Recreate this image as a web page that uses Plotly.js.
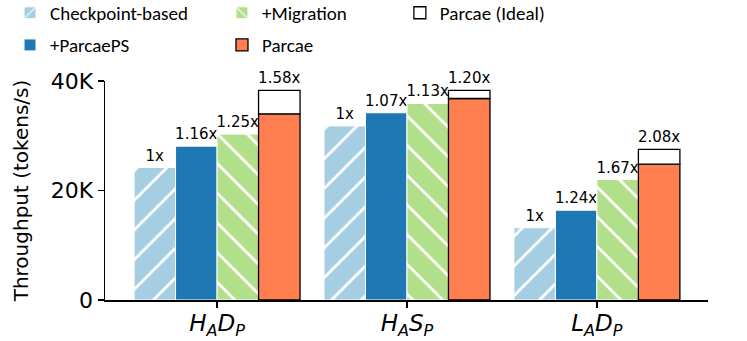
<!DOCTYPE html>
<html>
<head>
<meta charset="utf-8">
<script src="https://cdn.plot.ly/plotly-3.0.1.min.js"></script>
<style>
  html, body { margin: 0; padding: 0; background: #fff; }
  #chart { width: 747px; height: 341px; }
</style>
</head>
<body>
<div id="chart"></div>
<script>
// -- Data ---------------------------------------------------------------------
const workloads = ['<i>H<sub>A</sub>D<sub>P</sub></i>', '<i>H<sub>A</sub>S<sub>P</sub></i>', '<i>L<sub>A</sub>D<sub>P</sub></i>'];

const checkpoint = [24200, 31800, 13200];
const parcaePS   = [28100, 34200, 16400];
const migration  = [30300, 35900, 22000];
const parcae     = [34000, 36800, 24800];
const ideal      = [38300, 38300, 27500];

const lblCheckpoint = ['1x', '1x', '1x'];
const lblParcaePS   = ['1.16x', '1.07x', '1.24x'];
const lblMigration  = ['1.25x', '1.13x', '1.67x'];
const lblIdeal      = ['1.58x', '1.20x', '2.08x'];

const yTicks  = [0, 20000, 40000];
const yLabels = ['0', '20K', '40K'];

// -- Styles -------------------------------------------------------------------
const FONT = 'DejaVu Sans, sans-serif';
const LEG_FONT = { family: 'Carlito, Lato, sans-serif', size: 19, color: '#000' };
const LBL_FONT = { family: FONT, size: 15, color: '#000' };

function barTrace(name, y, labels, opts) {
  return Object.assign({
    type: 'bar',
    x: workloads,
    y: y,
    name: name,
    text: labels,
    textposition: labels ? 'outside' : 'none',
    textfont: LBL_FONT,
    constraintext: 'none',
    cliponaxis: false,
    hoverinfo: 'skip',
  }, opts);
}

const traces = [
  barTrace('Checkpoint-based', checkpoint, lblCheckpoint, {
    offsetgroup: 'a', legend: 'legend',
    marker: {
      color: '#a6cee3',
      line: { color: '#ffffff', width: 1 },
      pattern: { shape: '/', bgcolor: '#a6cee3', fgcolor: '#ffffff', fgopacity: 1, size: 21, solidity: 0.13 },
    },
  }),
  barTrace('+ParcaePS', parcaePS, lblParcaePS, {
    offsetgroup: 'b', legend: 'legend2',
    marker: { color: '#1f78b4', line: { color: '#ffffff', width: 1 } },
  }),
  barTrace('+Migration', migration, lblMigration, {
    offsetgroup: 'c', legend: 'legend3',
    marker: {
      color: '#b2df8a',
      line: { color: '#ffffff', width: 1 },
      pattern: { shape: '\\', bgcolor: '#b2df8a', fgcolor: '#ffffff', fgopacity: 1, size: 21, solidity: 0.13 },
    },
  }),
  barTrace('Parcae', parcae, null, {
    offsetgroup: 'd', legend: 'legend4',
    marker: { color: '#ff7f50', line: { color: '#000000', width: 1.3 } },
  }),
  barTrace('Parcae (Ideal)', ideal.map((v, i) => v - parcae[i]), lblIdeal, {
    offsetgroup: 'd', legend: 'legend5',
    base: parcae,
    marker: { color: '#ffffff', line: { color: '#000000', width: 1.3 } },
  }),
];

// legend placement helper: one legend per entry, laid out in 3 columns x 2 rows
function leg(x, y) {
  return {
    x: x, y: y, xanchor: 'left', yanchor: 'middle',
    bgcolor: 'rgba(0,0,0,0)', borderwidth: 0,
    font: LEG_FONT,
  };
}

const layout = {
  width: 747,
  height: 341,
  paper_bgcolor: '#ffffff',
  plot_bgcolor: '#ffffff',
  font: { family: FONT, color: '#000' },
  margin: { l: 105, r: 39, t: 81, b: 41, autoexpand: false },
  barmode: 'group',
  bargap: 0.126,
  bargroupgap: 0,
  showlegend: true,
  legend:  leg(-0.1575, 1.311),
  legend2: leg(-0.1575, 1.164),
  legend3: leg(0.194, 1.311),
  legend4: leg(0.194, 1.164),
  legend5: leg(0.489, 1.311),
  xaxis: {
    range: [-0.59, 2.585],
    showline: true, linecolor: '#000', linewidth: 1.5,
    ticks: 'outside', ticklen: 6, tickwidth: 1.5, tickcolor: '#000',
    tickfont: { family: FONT, size: 23 },
    ticklabelstandoff: -4,
    showgrid: false, zeroline: false,
  },
  yaxis: {
    range: [0, 40000],
    tickvals: yTicks, ticktext: yLabels,
    showline: true, linecolor: '#000', linewidth: 1.5,
    ticks: 'outside', ticklen: 6, tickwidth: 1.5, tickcolor: '#000',
    tickfont: { family: FONT, size: 22 },
    showgrid: false, zeroline: false,
    title: { text: 'Throughput (tokens/s)', font: { family: FONT, size: 20 }, standoff: 16 },
  },
};

Plotly.newPlot('chart', traces, layout, { displayModeBar: false, staticPlot: true });
</script>
</body>
</html>
